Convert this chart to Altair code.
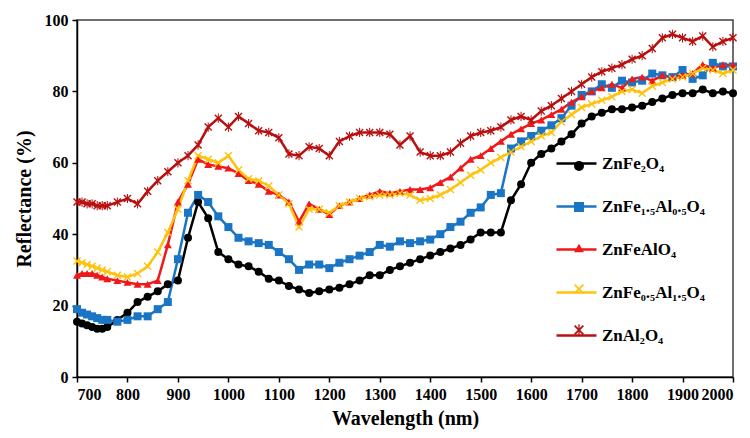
import altair as alt
import pandas as pd

wavelength = [700, 710, 720, 730, 740, 750, 760,
              780, 800, 820, 840, 860, 880, 900, 920, 940, 960,
              980, 1000, 1020, 1040, 1060, 1080, 1100, 1120, 1140, 1160,
              1180, 1200, 1220, 1240, 1260, 1280, 1300, 1320, 1340, 1360,
              1380, 1400, 1420, 1440, 1460, 1480, 1500, 1520, 1540, 1560,
              1580, 1600, 1620, 1640, 1660, 1680, 1700, 1720, 1740, 1760,
              1780, 1800, 1820, 1840, 1860, 1880, 1900, 1920, 1940, 1960,
              1980, 2000]

names = ["ZnFe₂O₄", "ZnFe₁.₅Al₀.₅O₄", "ZnFeAlO₄", "ZnFe₀.₅Al₁.₅O₄", "ZnAl₂O₄"]
colors = ["#000000", "#1A75C4", "#F01818", "#FFC20E", "#B81010"]

zn_fe2o4 = [15.5, 15, 14.5, 14, 13.5, 13.5, 14,
            16, 18, 21, 22.5, 24, 26, 27, 39, 49, 44.5,
            35, 33, 31.5, 31, 29.5, 27.5, 27, 25.5, 24.5, 23.5,
            24, 24.5, 25, 26, 27, 28.5, 28.5, 30, 31, 32,
            33, 34, 35, 36, 37, 38.5, 40.5, 40.5, 40.5, 49.5,
            54, 60, 62.5, 64, 66, 68, 71, 73, 74, 75,
            75, 75.5, 76, 77, 78, 79, 79.5, 79.5, 80.5, 79.5,
            80, 79.5]

zn_fe15 = [19, 18, 17.5, 17, 16.5, 16, 16,
           15.5, 16, 17, 17, 19, 21, 33, 46, 51, 49,
           45, 42, 39, 38, 37.5, 37, 35, 33, 30, 31.5,
           31.5, 30.5, 32, 33, 34, 35, 37, 36.5, 38, 37.5,
           38, 38.5, 40, 42, 43.5, 46, 47.5, 51, 51.5, 64,
           66, 67.5, 69, 70.5, 72.5, 76, 79, 80, 82, 81,
           83, 82.5, 83, 85, 84.5, 84, 86, 83.5, 84.5, 88,
           87, 87]

zn_feal = [28.5, 29, 29, 29, 28.5, 28, 27.5,
           27, 26.5, 26, 26, 27, 37, 49, 54, 61, 59.5,
           59, 58.5, 57, 55, 54, 52, 51, 49, 43.5, 48.5,
           47, 45.5, 48, 49, 50, 51, 52, 51.5, 52, 52.5,
           52.5, 53, 54.5, 56, 58.5, 61, 62, 64, 66, 68,
           69.5, 71, 72, 73.5, 75, 77, 78.5, 80, 81, 82,
           81, 83.5, 84, 83, 84.5, 84, 84.5, 85, 87.5, 86.5,
           87.5, 87.5]

zn_fe05 = [32.5, 32, 31.5, 31, 30.5, 30, 29.5,
           28.5, 28, 29, 31, 35, 40.5, 47, 55, 62, 61,
           60, 62, 58, 55.5, 55, 53.5, 51, 48.5, 42, 47,
           47, 46, 48, 49, 50, 50.5, 51, 51, 51.5, 51,
           49.5, 50, 51, 52.5, 54.5, 56.5, 58, 60, 61.5, 63,
           64.5, 66, 67.5, 68.5, 71.5, 73.5, 75.5, 76.5, 77.5, 78.5,
           80, 80.5, 79.5, 81.5, 82.5, 83.5, 84, 85, 86.5, 86,
           85, 86]

zn_al2o4 = [49, 49, 48.5, 48.5, 48, 48, 48,
            49, 50, 48.5, 52, 55, 57.5, 60, 62, 65, 70,
            72.5, 70, 73, 71, 69, 68.5, 67, 62.5, 62, 64.5,
            64, 62, 66, 67.5, 68.5, 68.5, 68.5, 68, 65, 67.5,
            63, 62, 62, 63, 65.5, 67.5, 68.5, 69, 70, 72,
            73, 72, 74.5, 76, 78, 80, 82, 84, 85.5, 86.5,
            87.5, 89, 90, 92, 95, 96, 95, 94, 95.5, 92.5,
            94, 95]

all_values = [zn_fe2o4, zn_fe15, zn_feal, zn_fe05, zn_al2o4]

rows = []
for name, vals in zip(names, all_values):
    for w, v in zip(wavelength, vals):
        rows.append({"wl": w, "R": v, "series": name, "series2": name})
df = pd.DataFrame(rows)

x_path = ("M-1,-0.75L-0.75,-1L0,-0.25L0.75,-1L1,-0.75L0.25,0L1,0.75L0.75,1"
          "L0,0.25L-0.75,1L-1,0.75L-0.25,0Z")
ast_path = x_path + "M-0.13,-1.15L0.13,-1.15L0.13,-0.3L-0.13,-0.3Z M-0.13,0.3L0.13,0.3L0.13,1.15L-0.13,1.15Z"
shapes = ["circle", "square", "triangle-up", x_path, ast_path]

FONT = "Liberation Serif"

axis_style = dict(
    grid=False, domainColor="black", domainWidth=1.5, tickColor="black", tickWidth=1.5,
    tickSize=5, labelFont=FONT, labelFontWeight="bold", labelFontSize=16,
    labelColor="black", titleFont=FONT, titleFontWeight="bold", titleFontSize=20,
    titleColor="black", labelPadding=4,
)

x_enc = alt.X("wl:Q", scale=alt.Scale(domain=[700, 2000], nice=False, zero=False),
              axis=alt.Axis(values=list(range(700, 2001, 100)), title="Wavelength (nm)",
                            format="d", titlePadding=6, **axis_style))
y_enc = alt.Y("R:Q", scale=alt.Scale(domain=[0, 100], nice=False),
              axis=alt.Axis(values=[0, 20, 40, 60, 80, 100], title="Reflectance (%)",
                            titlePadding=10, **axis_style))

line = alt.Chart(df).mark_line(strokeWidth=2.5).encode(
    x=x_enc, y=y_enc,
    color=alt.Color("series:N", scale=alt.Scale(domain=names, range=colors), sort=names,
                    legend=alt.Legend(title=None, orient="none", legendX=478, legendY=122,
                                      symbolType="stroke", symbolSize=1600,
                                      symbolStrokeWidth=2.5, rowPadding=13,
                                      labelFont=FONT, labelFontWeight="bold",
                                      labelFontSize=17, labelColor="black",
                                      labelOffset=4, padding=0)),
    order="wl:Q",
)

pleg = alt.Legend(title=None, orient="none", legendX=494, legendY=138,
                  rowPadding=25, labelExpr="''", labelFont=FONT, labelFontSize=16,
                  padding=0)
points = alt.Chart(df).mark_point(filled=True, size=64, opacity=1).encode(
    x=x_enc, y=y_enc,
    color=alt.Color("series2:N", scale=alt.Scale(domain=names, range=colors), sort=names,
                    legend=pleg),
    shape=alt.Shape("series2:N", scale=alt.Scale(domain=names, range=shapes), sort=names,
                    legend=pleg),
)

chart = alt.layer(line, points).resolve_scale(
    color="independent", shape="independent"
).resolve_legend(color="independent", shape="independent").properties(
    width=656, height=357,
    padding={"left": 77, "top": 20, "right": 17, "bottom": 61},
    autosize=alt.AutoSizeParams(type="none"),
).configure(
    font=FONT
).configure_view(
    stroke="#404040", strokeWidth=1.5
)

chart.save("out.html", embed_options={"renderer": "svg", "actions": False})
